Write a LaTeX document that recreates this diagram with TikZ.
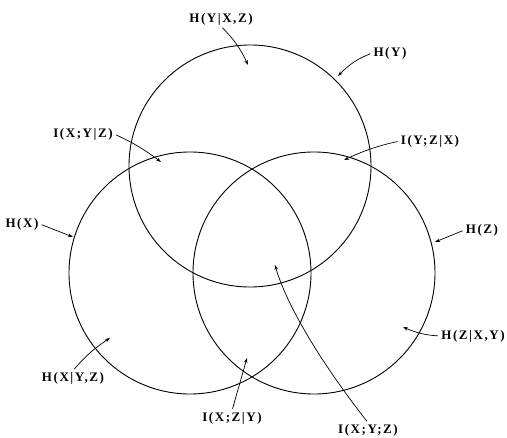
\documentclass[tikz,border=0pt]{standalone}
\usepackage{fontspec}
\newfontfamily\entfont[LetterSpace=12]{Liberation Serif}
\usetikzlibrary{arrows.meta}

\tikzset{
    entlabel/.style={font=\entfont\fontsize{13}{15}\selectfont\bfseries, inner sep=1pt},
    entarrow/.style={-{Stealth[length=5pt,width=3.5pt]}, line width=0.7pt, shorten <=2pt}
}

\begin{document}
\begin{tikzpicture}[x=1pt, y=-1pt, line width=0.9pt]

    % Constants
    \pgfmathsetmacro{\R}{121}

    \useasboundingbox (0,0) rectangle (507,438);

    % Circle centres
    \coordinate (X) at (190,273);
    \coordinate (Y) at (250,166);
    \coordinate (Z) at (314,273);

    % Circles
    \draw (X) circle [radius=\R];
    \draw (Y) circle [radius=\R];
    \draw (Z) circle [radius=\R];

    % Labels
    \node [entlabel] (hyxz) at (221,19) {H(Y|X,Z)};
    \node [entlabel] (hy) at (390,53) {H(Y)};
    \node [entlabel] (ixyz) at (83,134) {I(X;Y|Z)};
    \node [entlabel] (iyzx) at (430,141) {I(Y;Z|X)};
    \node [entlabel] (hx) at (22,224) {H(X)};
    \node [entlabel] (hz) at (482,230) {H(Z)};
    \node [entlabel] (hzxy) at (473,336) {H(Z|X,Y)};
    \node [entlabel] (hxyz) at (73,378) {H(X|Y,Z)};
    \node [entlabel] (ixzy) at (232,418) {I(X;Z|Y)};
    \node [entlabel] (ixyzall) at (368,430) {I(X;Y;Z)};

    % Arrow ends
    \coordinate (hyxz-tip) at (248,65);
    \coordinate (hy-tip) at (338,76);
    \coordinate (ixyz-tip) at (161,162);
    \coordinate (iyzx-tip) at (344,160);
    \coordinate (hx-tip) at (73,237);
    \coordinate (hz-tip) at (435,242);
    \coordinate (hzxy-tip) at (403,327);
    \coordinate (hxyz-tip) at (110,338);
    \coordinate (ixzy-tip) at (247,358);
    \coordinate (ixyzall-tip) at (275,265);

    % Arrows
    \draw [entarrow] (hyxz.south) to[bend left=10] (hyxz-tip);
    \draw [entarrow] (hy.west) to[bend right=12] (hy-tip);
    \draw [entarrow] (ixyz.east) to[bend left=6] (ixyz-tip);
    \draw [entarrow] (iyzx.west) to[bend right=6] (iyzx-tip);
    \draw [entarrow] (hx.east) -- (hx-tip);
    \draw [entarrow] (hz.west) -- (hz-tip);
    \draw [entarrow] (hzxy.west) to[bend left=10] (hzxy-tip);
    \draw [entarrow] (hxyz.north) to[bend left=8] (hxyz-tip);
    \draw [entarrow] (ixzy.north) -- (ixzy-tip);
    \draw [entarrow] (ixyzall.north) .. controls (315,355) and (285,300) .. (ixyzall-tip);

\end{tikzpicture}
\end{document}
